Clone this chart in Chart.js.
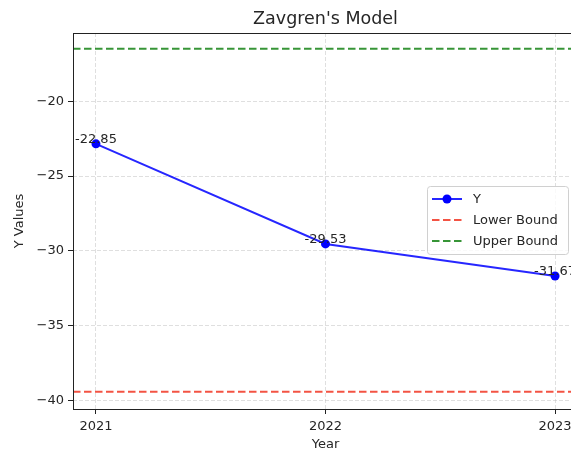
<!DOCTYPE html>
<html>
<head>
<meta charset="utf-8">
<script src="https://cdn.jsdelivr.net/npm/chart.js@4"></script>
<style>
  html, body { margin: 0; padding: 0; background: #fff; overflow: hidden; }
  #wrap { width: 571px; height: 455px; overflow: hidden; }
  canvas { display: block; }
</style>
</head>
<body>
<div id="wrap"><canvas id="chart" width="578" height="455"></canvas></div>
<script>
// ---- data ----
const years = [2021, 2022, 2023];
const yValues = [-22.85, -29.53, -31.67];
const lowerBound = [-39.4];
const upperBound = [-16.5];
const xTicks = [2021, 2022, 2023];
const yTicks = [-40, -35, -30, -25, -20];
const xRange = [2020.9, 2023.1];
const yRange = [-40.55, -15.45];

const FONT = "DejaVu Sans";
const TXT = "#262626";

// horizontal reference line spanning the whole x axis
function hline(v) {
  return xRange.map(x => ({ x: x, y: v }));
}

// ---- plugins ----
const frame = {
  id: "frame",
  afterDatasetsDraw(chart) {
    const a = chart.chartArea, ctx = chart.ctx;
    ctx.save();
    ctx.strokeStyle = "#222";
    ctx.lineWidth = 1;
    ctx.strokeRect(Math.round(a.left) + 0.5, Math.round(a.top) + 0.5,
      Math.round(a.right - a.left), Math.round(a.bottom - a.top));
    ctx.restore();
  }
};

const valueLabels = {
  id: "valueLabels",
  afterDatasetsDraw(chart) {
    const ctx = chart.ctx;
    const meta = chart.getDatasetMeta(0);
    ctx.save();
    ctx.font = "13px " + FONT;
    ctx.fillStyle = TXT;
    ctx.textAlign = "center";
    ctx.textBaseline = "alphabetic";
    meta.data.forEach((p, i) => {
      ctx.fillText(yValues[i].toFixed(2), p.x, p.y - 1);
    });
    ctx.restore();
  }
};

// matplotlib-like legend in the plot
const mplLegend = {
  id: "mplLegend",
  afterDraw(chart) {
    const ctx = chart.ctx;
    const x = 427, y = 186, w = 141, h = 68;
    ctx.save();
    ctx.fillStyle = "rgba(255,255,255,0.8)";
    ctx.strokeStyle = "#d0d0d0";
    ctx.lineWidth = 1;
    ctx.beginPath();
    ctx.roundRect(x + 0.5, y + 0.5, w, h, 3);
    ctx.fill();
    ctx.stroke();

    ctx.font = "13px " + FONT;
    ctx.textBaseline = "middle";
    chart.data.datasets.forEach((ds, i) => {
      const cy = y + 13 + i * 21;
      ctx.strokeStyle = ds.borderColor;
      ctx.lineWidth = ds.borderWidth;
      ctx.setLineDash(ds.borderDash || []);
      ctx.beginPath();
      ctx.moveTo(x + 5, cy);
      ctx.lineTo(x + 35, cy);
      ctx.stroke();
      ctx.setLineDash([]);
      if (ds.pointRadius > 0) {
        ctx.fillStyle = ds.pointBackgroundColor;
        ctx.beginPath();
        ctx.arc(x + 20, cy, ds.pointRadius, 0, Math.PI * 2);
        ctx.fill();
      }
      ctx.fillStyle = TXT;
      ctx.fillText(ds.label, x + 46, cy + 1);
    });
    ctx.restore();
  }
};

// ---- chart ----
const minus = v => (v < 0 ? "\u2212" + Math.abs(v) : String(v));

new Chart(document.getElementById("chart"), {
  type: "line",
  data: {
    datasets: [
      {
        label: "Y",
        data: years.map((yr, i) => ({ x: yr, y: yValues[i] })),
        borderColor: "rgba(0,0,255,0.85)",
        borderWidth: 2,
        pointRadius: 4.5,
        pointBackgroundColor: "#0000ff",
        pointBorderWidth: 0,
        tension: 0
      },
      {
        label: "Lower Bound",
        data: hline(lowerBound[0]),
        borderColor: "rgba(240,40,20,0.8)",
        borderWidth: 2,
        borderDash: [7.5, 3.5],
        pointRadius: 0
      },
      {
        label: "Upper Bound",
        data: hline(upperBound[0]),
        borderColor: "rgba(20,130,20,0.85)",
        borderWidth: 2,
        borderDash: [7.5, 3.5],
        pointRadius: 0
      }
    ]
  },
  options: {
    responsive: false,
    animation: false,
    layout: { padding: 0, autoPadding: false },
    plugins: {
      legend: { display: false },
      tooltip: { enabled: false },
      title: {
        display: true,
        text: "Zavgren's Model",
        fullSize: false,
        color: TXT,
        font: { family: FONT, size: 17.5, weight: "normal" },
        padding: { top: 9, bottom: 3 }
      }
    },
    scales: {
      x: {
        type: "linear",
        min: xRange[0],
        max: xRange[1],
        afterBuildTicks: s => { s.ticks = xTicks.map(v => ({ value: v })); },
        afterFit: s => { s.height = 46; s.paddingLeft = 0; s.paddingRight = 0; },
        grid: {
          color: "rgba(176,176,176,0.5)",
          lineWidth: 0.8,
          tickLength: 5,
          tickColor: "#222",
          tickWidth: 1,
          tickBorderDash: []
        },
        border: { display: false, dash: [4, 2] },
        ticks: {
          color: TXT,
          padding: 5,
          maxRotation: 0,
          font: { family: FONT, size: 13 },
          callback: v => String(v)
        },
        title: {
          display: true,
          text: "Year",
          color: TXT,
          font: { family: FONT, size: 13 },
          padding: { top: 0, bottom: 3 }
        }
      },
      y: {
        type: "linear",
        min: yRange[0],
        max: yRange[1],
        afterBuildTicks: s => { s.ticks = yTicks.map(v => ({ value: v })); },
        afterFit: s => { s.width = 73; s.paddingTop = 0; s.paddingBottom = 0; },
        grid: {
          color: "rgba(176,176,176,0.5)",
          lineWidth: 0.8,
          tickLength: 5,
          tickColor: "#222",
          tickWidth: 1,
          tickBorderDash: []
        },
        border: { display: false, dash: [4, 2] },
        ticks: {
          color: TXT,
          padding: 4,
          font: { family: FONT, size: 13 },
          callback: v => minus(v)
        },
        title: {
          display: true,
          text: "Y Values",
          color: TXT,
          font: { family: FONT, size: 13 },
          padding: { top: 12, bottom: 0 }
        }
      }
    }
  },
  plugins: [frame, valueLabels, mplLegend]
});
</script>
</body>
</html>
